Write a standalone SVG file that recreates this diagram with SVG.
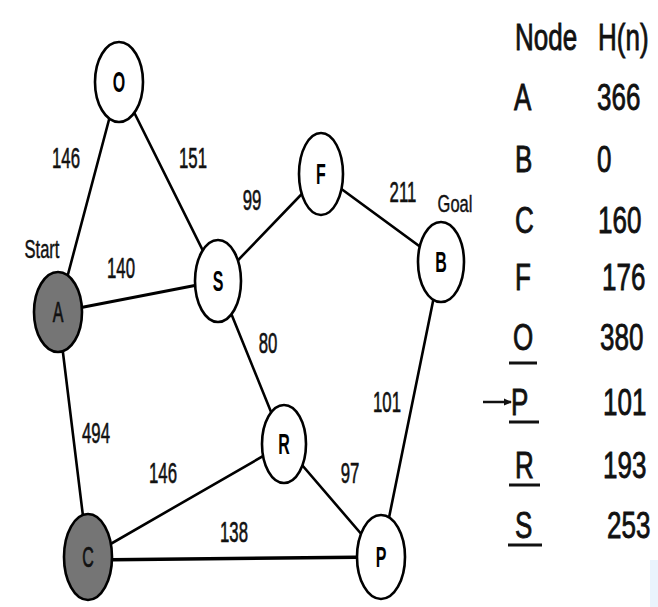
<svg xmlns="http://www.w3.org/2000/svg" width="658" height="607" viewBox="0 0 658 607">
  <style>
    .edge { stroke: #000; stroke-width: 2.6; fill: none; stroke-linecap: round; }
    .node ellipse { stroke: #000; stroke-width: 2.6; fill: #fff; }
    .node.visited ellipse { fill: #757575; }
    .nl { font-family: "Liberation Sans", Arial, sans-serif; font-size: 16px; font-weight: bold; fill: #000; text-anchor: middle; }
    .visited .nl { font-weight: normal; fill: #111; stroke: #111; stroke-width: 0.4; }
    .lbl { font-family: "Liberation Sans", Arial, sans-serif; font-size: 16.8px; fill: #111; stroke: #111; stroke-width: 0.35; text-anchor: middle; }
    .tag { font-family: "Liberation Sans", Arial, sans-serif; font-size: 16.5px; fill: #111; stroke: #111; stroke-width: 0.3; text-anchor: middle; }
    .tbl { font-family: "Liberation Sans", Arial, sans-serif; font-size: 26px; fill: #111; stroke: #111; stroke-width: 0.6; }
    .ul { stroke: #111; stroke-width: 3; }
  </style>
  <defs>
    <marker id="arrow" markerWidth="8" markerHeight="8" refX="7" refY="4" orient="auto" markerUnits="userSpaceOnUse">
      <path d="M0,0.5 L8,4 L0,7.5 Z" fill="#111"/>
    </marker>
  </defs>

  <rect width="658" height="607" fill="#fff"/>
  <rect x="650" y="560" width="8" height="47" fill="#eaf4fc"/>

  <!-- connectors -->
  <g id="edges">
    <line class="edge" x1="119" y1="82" x2="58" y2="312"/>
    <line class="edge" x1="119" y1="82" x2="218" y2="281"/>
    <line class="edge" x1="58" y1="312" x2="218" y2="281" style="stroke-width:3.2"/>
    <line class="edge" x1="218" y1="281" x2="321" y2="174"/>
    <line class="edge" x1="321" y1="174" x2="441" y2="262"/>
    <line class="edge" x1="218" y1="281" x2="284" y2="444"/>
    <line class="edge" x1="58" y1="312" x2="88" y2="557"/>
    <line class="edge" x1="441" y1="262" x2="381" y2="557"/>
    <line class="edge" x1="284" y1="444" x2="88" y2="557"/>
    <line class="edge" x1="284" y1="444" x2="381" y2="557"/>
    <line class="edge" x1="88" y1="560" x2="381" y2="557" style="stroke-width:3.4"/>
  </g>

  <!-- edge weights and tags -->
  <g id="edge-labels">
    <text class="lbl" transform="translate(66,168) scale(1,1.75)">146</text>
    <text class="lbl" transform="translate(193,168) scale(1,1.75)">151</text>
    <text class="lbl" transform="translate(252,210) scale(1,1.75)">99</text>
    <text class="lbl" transform="translate(121,278) scale(1,1.75)">140</text>
    <text class="lbl" transform="translate(403,202) scale(1,1.75)">211</text>
    <text class="lbl" transform="translate(268,353) scale(1,1.75)">80</text>
    <text class="lbl" transform="translate(387,412) scale(1,1.75)">101</text>
    <text class="lbl" transform="translate(96,443) scale(1,1.75)">494</text>
    <text class="lbl" transform="translate(163,483) scale(1,1.75)">146</text>
    <text class="lbl" transform="translate(350,483) scale(1,1.75)">97</text>
    <text class="lbl" transform="translate(234,542) scale(1,1.75)">138</text>
    <text class="tag" transform="translate(42,258) scale(1,1.6)">Start</text>
    <text class="tag" transform="translate(455,212) scale(1,1.5)">Goal</text>
  </g>

  <!-- nodes -->
  <g id="node-O" class="node">
    <ellipse cx="119" cy="82" rx="24" ry="40"/>
    <text class="nl" transform="translate(119,92) scale(1,1.8)">O</text>
  </g>
  <g id="node-A" class="node visited">
    <ellipse cx="58" cy="312" rx="24" ry="40"/>
    <text class="nl" transform="translate(58,322) scale(1,1.8)">A</text>
  </g>
  <g id="node-S" class="node">
    <ellipse cx="218" cy="281" rx="23" ry="41"/>
    <text class="nl" transform="translate(218,291) scale(1,1.8)">S</text>
  </g>
  <g id="node-F" class="node">
    <ellipse cx="321" cy="174" rx="22" ry="41"/>
    <text class="nl" transform="translate(321,184) scale(1,1.8)">F</text>
  </g>
  <g id="node-B" class="node">
    <ellipse cx="441" cy="262" rx="23" ry="40"/>
    <text class="nl" transform="translate(441,272) scale(1,1.8)">B</text>
  </g>
  <g id="node-R" class="node">
    <ellipse cx="284" cy="444" rx="22" ry="39"/>
    <text class="nl" transform="translate(284,454) scale(1,1.8)">R</text>
  </g>
  <g id="node-P" class="node">
    <ellipse cx="381" cy="557" rx="24" ry="42"/>
    <text class="nl" transform="translate(381,567) scale(1,1.8)">P</text>
  </g>
  <g id="node-C" class="node visited">
    <ellipse cx="88" cy="557" rx="24" ry="43"/>
    <text class="nl" transform="translate(88,567) scale(1,1.8)">C</text>
  </g>

  <!-- heuristic table -->
  <g id="heuristic-table">
    <text class="tbl" transform="translate(515,50) scale(1,1.45)">Node</text>
    <text class="tbl" transform="translate(598,50) scale(1,1.45)">H(n)</text>
    <text class="tbl" transform="translate(514,110) scale(1,1.45)">A</text>
    <text class="tbl" transform="translate(597,110) scale(1,1.45)">366</text>
    <text class="tbl" transform="translate(515,172) scale(1,1.45)">B</text>
    <text class="tbl" transform="translate(597,172) scale(1,1.45)">0</text>
    <text class="tbl" transform="translate(515,233) scale(1,1.45)">C</text>
    <text class="tbl" transform="translate(598,233) scale(1,1.45)">160</text>
    <text class="tbl" transform="translate(515,290) scale(1,1.45)">F</text>
    <text class="tbl" transform="translate(602,290) scale(1,1.45)">176</text>
    <text class="tbl" transform="translate(513,350) scale(1,1.45)">O</text>
    <text class="tbl" transform="translate(600,350) scale(1,1.45)">380</text>
    <text class="tbl" transform="translate(511,415) scale(1,1.45)">P</text>
    <text class="tbl" transform="translate(603,415) scale(1,1.45)">101</text>
    <text class="tbl" transform="translate(515,478) scale(1,1.45)">R</text>
    <text class="tbl" transform="translate(603,478) scale(1,1.45)">193</text>
    <text class="tbl" transform="translate(515,538) scale(1,1.45)">S</text>
    <text class="tbl" transform="translate(607,538) scale(1,1.45)">253</text>
    <line class="ul" x1="509" y1="363" x2="537" y2="363"/>
    <line class="ul" x1="509" y1="422" x2="539" y2="422"/>
    <line class="ul" x1="509" y1="485" x2="540" y2="485"/>
    <line class="ul" x1="508" y1="545" x2="542" y2="545"/>
    <line x1="483" y1="402" x2="511" y2="402" stroke="#111" stroke-width="2.5" marker-end="url(#arrow)"/>
  </g>
</svg>
